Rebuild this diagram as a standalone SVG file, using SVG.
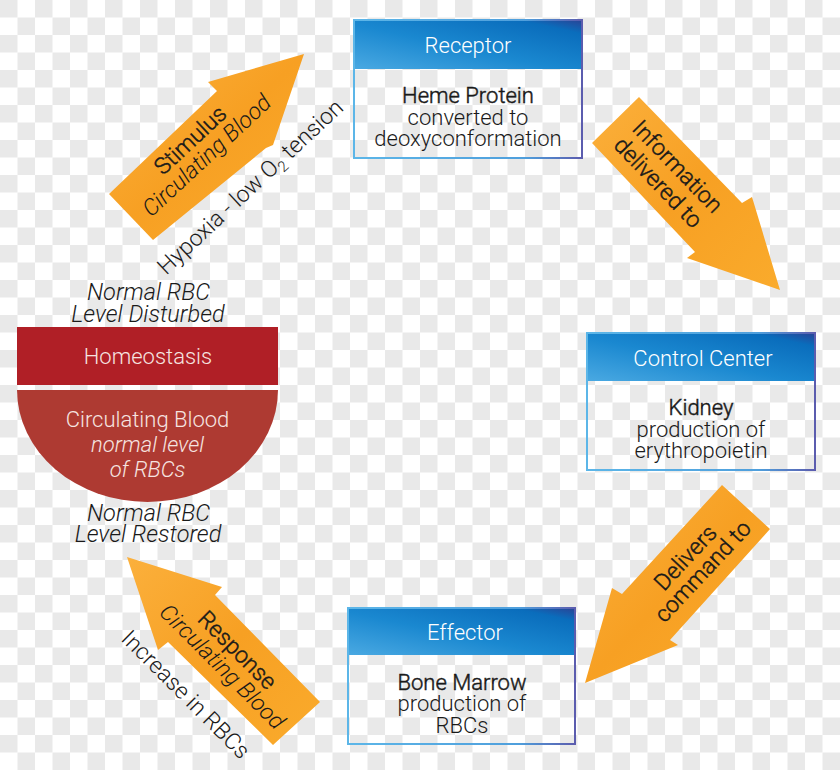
<svg xmlns="http://www.w3.org/2000/svg" width="840" height="770" viewBox="0 0 840 770">
<defs>
<pattern id="ck" width="35" height="35" patternUnits="userSpaceOnUse">
<rect width="35" height="35" fill="#ffffff"/>
<rect width="17.5" height="17.5" fill="#e9e9e9"/>
<rect x="17.5" y="17.5" width="17.5" height="17.5" fill="#e9e9e9"/>
</pattern>
<linearGradient id="hdr" x1="0" y1="1" x2="1" y2="0">
<stop offset="0" stop-color="#4aa9e2"/>
<stop offset="0.45" stop-color="#1a88d0"/>
<stop offset="0.85" stop-color="#0a6dbc"/>
<stop offset="1" stop-color="#2d3f92"/>
</linearGradient>
<linearGradient id="brd" x1="0" y1="0" x2="1" y2="0">
<stop offset="0" stop-color="#5cb6e8"/>
<stop offset="0.75" stop-color="#4f9fdc"/>
<stop offset="1" stop-color="#5b5cae"/>
</linearGradient>
<linearGradient id="og" x1="0" y1="0" x2="1" y2="1">
<stop offset="0" stop-color="#fbb03c"/>
<stop offset="0.5" stop-color="#f7a023"/>
<stop offset="1" stop-color="#faab2c"/>
</linearGradient>
<style>
text{font-family:Roboto,"Liberation Sans",sans-serif}
.h{font-size:22px;font-weight:300;fill:#ffffff;text-anchor:middle}
.b{font-size:22px;fill:#1a1a1a;text-anchor:middle}
.r{font-weight:300;stroke:#1a1a1a;stroke-width:0.45px}
.l{font-weight:300}
.i{font-style:italic;font-weight:300}
.a{font-size:23px;fill:#1a1a1a;text-anchor:middle}
.w{font-size:22px;fill:#f6e4e0;text-anchor:middle}
.n{font-size:23.5px}
.hb{fill:url(#hdr)}
.bx{fill:none;stroke:url(#brd);stroke-width:2}
.arr{fill:url(#og)}
</style>
</defs>
<rect width="840" height="770" fill="url(#ck)"/>

<g id="connectors">
<g id="stimulus">
<polygon class="arr" points="304,54 208,82 217,91 109,194 153,240 266,148 273,145"/>
<g transform="translate(195.5,145.8) rotate(-43)">
<text class="a r" x="0" y="0">Stimulus</text>
<text class="a i" x="1.5" y="22.5">Circulating Blood</text>
<text class="a l" x="12" y="75">Hypoxia - low O<tspan font-size="15" dy="5">2</tspan><tspan dy="-5"> tension</tspan></text>
</g>
</g>
<g id="information">
<polygon class="arr" points="639,97 742,203 752,197 780,290 687,258 695,252 592,143"/>
<g transform="translate(672,172) rotate(46)">
<text class="a r" x="0" y="0">Information</text>
<text class="a r" x="-2" y="25">delivered to</text>
</g>
</g>
<g id="delivers">
<polygon class="arr" points="722,485 770,529 670,640 678,645 585,683 612,588 622,594"/>
<g transform="translate(691,563) rotate(-47)">
<text class="a r" x="0" y="0">Delivers</text>
<text class="a r" x="2" y="22">command to</text>
</g>
</g>
<g id="response">
<polygon class="arr" points="127,557 222,587 215,595 320,702 273,745 168,642 158,650"/>
<g transform="translate(231.8,655.6) rotate(45)">
<text class="a r" x="0" y="0">Response</text>
<text class="a i" x="1" y="22.3">Circulating Blood</text>
<text class="a l" x="-5" y="67.8">Increase in RBCs</text>
</g>
</g>
</g>

<g id="receptor">
<rect class="hb" x="353" y="19" width="230" height="50"/>
<rect class="bx" x="354" y="20" width="228" height="138"/>
<text class="h" x="468" y="53">Receptor</text>
<text class="b r" x="468" y="103">Heme Protein</text>
<text class="b l" x="468" y="124.5">converted to</text>
<text class="b l" x="468" y="146">deoxyconformation</text>
</g>

<g id="control-center">
<rect class="hb" x="586" y="332" width="230" height="49"/>
<rect class="bx" x="587" y="333" width="228" height="137"/>
<text class="h" x="703" y="366">Control Center</text>
<text class="b r" x="701" y="415">Kidney</text>
<text class="b l" x="701" y="437">production of</text>
<text class="b l" x="701" y="457.5">erythropoietin</text>
</g>

<g id="effector">
<rect class="hb" x="347" y="607" width="229" height="48"/>
<rect class="bx" x="348" y="608" width="227" height="136"/>
<text class="h" x="465" y="640">Effector</text>
<text class="b r" x="462" y="689.5">Bone Marrow</text>
<text class="b l" x="462" y="711">production of</text>
<text class="b l" x="462" y="732.5">RBCs</text>
</g>

<g id="homeostasis">
<rect x="17" y="327" width="261" height="58" fill="#b01f26"/>
<path d="M17,390 H278 A130.5,112 0 0 1 17,390 Z" fill="#ae3a32"/>
<text class="w l" x="148" y="364" fill="#ffffff">Homeostasis</text>
<text class="w l" x="147.5" y="427" font-size="23">Circulating Blood</text>
<text class="w i" x="147.5" y="452" font-size="23">normal level</text>
<text class="w i" x="147.5" y="477" font-size="23">of RBCs</text>
<text class="b i n" x="148.5" y="300">Normal RBC</text>
<text class="b i n" x="148" y="322">Level Disturbed</text>
<text class="b i n" x="148.5" y="521">Normal RBC</text>
<text class="b i n" x="148" y="542">Level Restored</text>
</g>
</svg>
